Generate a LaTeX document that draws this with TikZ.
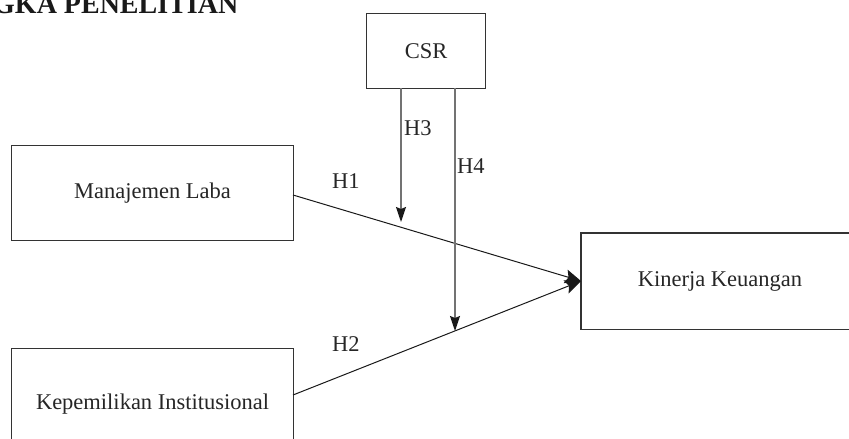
\documentclass[tikz,border=0pt]{standalone}
\usepackage{fontspec}
\setmainfont{Liberation Serif}
\usetikzlibrary{arrows.meta,calc}
\tikzset{
  boxnode/.style={draw=black!80,line width=1.1pt,rectangle,inner sep=0pt,anchor=north west,
    font=\fontsize{22.5}{26}\selectfont,text=black!85},
  hlabel/.style={font=\fontsize{22.5}{26}\selectfont,text=black!85,inner sep=0pt},
  mainarrow/.style={draw=black!90,line width=1pt,-{Stealth[length=16pt,width=14pt,inset=3pt]}},
  modarrow/.style={draw=black!55,line width=1.5pt,-{Stealth[length=15pt,width=10pt,inset=2pt,color=black!90]}}
}
\begin{document}
\begin{tikzpicture}[x=1pt,y=-1pt]
\useasboundingbox (0,0) rectangle (849,439);
\begin{scope}
\clip (0,0) rectangle (849,439);
% title (cut off at left and top, as in the reference)
\node[anchor=base west,inner sep=0pt,font=\fontsize{28}{30}\selectfont\bfseries,text=black!90] (title) at (-7,13) {GKA PENELITIAN};
% boxes
\node[boxnode,minimum width=119pt,minimum height=75pt] (csr) at (366,13) {CSR};
\node[boxnode,minimum width=282pt,minimum height=95pt] (ml) at (11,145) {Manajemen Laba};
% Kinerja box runs past the right edge: outline drawn open on the right
\node[boxnode,draw=none,minimum width=320pt,minimum height=95pt] (kk) at (581,233) {};
\draw[draw=black!80,line width=1.1pt] ($(kk.north west)+(340,0)$) -- (kk.north west) -- (kk.south west) -- ($(kk.south west)+(340,0)$);
\node[text=black!85,font=\fontsize{22.5}{26}\selectfont,inner sep=0pt] (kkt) at (720,281) {Kinerja Keuangan};
\node[boxnode,minimum width=282pt,minimum height=112pt] (ki) at (11,348) {Kepemilikan Institusional};
\end{scope}
% connector points
\coordinate (h1s) at (293,195);
\coordinate (h2s) at (293,395);
\coordinate (h3s) at (401,88);
\coordinate (h3e) at (401,222);
\coordinate (h4s) at (455,88);
\coordinate (h4e) at (455,331);
% connectors
\draw[mainarrow] (h1s) -- (kk.west);
\draw[mainarrow] (h2s) -- (kk.west);
\draw[modarrow] (h3s) -- (h3e);
\draw[modarrow] (h4s) -- (h4e);
% labels
\node[hlabel,anchor=base west] (l1) at (332,188) {H1};
\node[hlabel,anchor=base west] (l2) at (332,351) {H2};
\node[hlabel,anchor=base west] (l3) at (404,135) {H3};
\node[hlabel,anchor=base west] (l4) at (457,173) {H4};
\end{tikzpicture}
\end{document}
